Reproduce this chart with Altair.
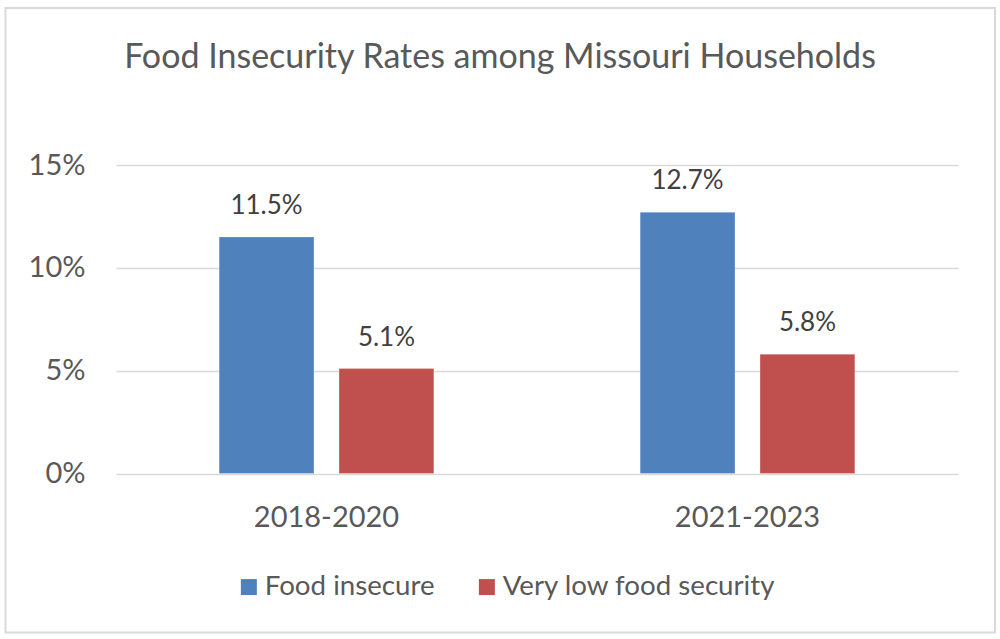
import altair as alt
import pandas as pd

# Survey periods, series names and rates (percent of households)
periods = ["2018-2020", "2021-2023"]
series = ["Food insecure", "Very low food security"]
food_insecure = [11.5, 12.7]
very_low = [5.1, 5.8]
y_ticks = [0, 5, 10, 15]
title_text = "Food Insecurity Rates among Missouri Households"

colors = ["#4F81BD", "#C0504D"]
FONT = "Lato"

rows = []
for i, p in enumerate(periods):
    rows.append({"period": p, "series": series[0], "rate": food_insecure[i]})
    rows.append({"period": p, "series": series[1], "rate": very_low[i]})
df = pd.DataFrame(rows)

W, H = 842, 308.5

x_enc = alt.X(
    "period:N",
    sort=periods,
    scale=alt.Scale(paddingInner=0.49, paddingOuter=0.245),
    axis=alt.Axis(
        title=None, ticks=False, domain=False, labelAngle=0,
        labelFontSize=29, labelColor="#595959", labelFont=FONT,
        labelBaseline="alphabetic", labelPadding=53,
    ),
)
xo_enc = alt.XOffset(
    "series:N", sort=series,
    scale=alt.Scale(paddingInner=0.209, paddingOuter=0),
)
y_enc = alt.Y(
    "rate:Q",
    scale=alt.Scale(domain=[0, 15], nice=False),
    axis=alt.Axis(
        title=None, values=y_ticks, ticks=False, domain=False,
        labelExpr="datum.value + '%'",
        labelFontSize=29, labelColor="#595959", labelFont=FONT,
        labelPadding=31, gridColor="#D9D9D9", gridWidth=1.5,
    ),
)

bars = alt.Chart(df).mark_bar(stroke="#ffffff", strokeOpacity=0.25, strokeWidth=1).encode(
    x=x_enc,
    xOffset=xo_enc,
    y=y_enc,
    color=alt.Color(
        "series:N",
        sort=series,
        scale=alt.Scale(domain=series, range=colors),
        legend=alt.Legend(
            title=None, orient="none", direction="horizontal",
            legendX=119, legendY=408,
            symbolType="square", symbolSize=256, symbolStrokeWidth=0,
            symbolOpacity=1,
            labelFontSize=27.7, labelColor="#595959", labelFont=FONT,
            labelOffset=2, columnPadding=38, labelLimit=600,
        ),
    ),
)

labels = alt.Chart(df).transform_calculate(
    label="format(datum.rate, '.1f') + '%'"
).mark_text(
    baseline="alphabetic", dy=-23, fontSize=26, color="#404040", font=FONT
).encode(
    x=alt.X("period:N", sort=periods),
    xOffset=alt.XOffset("series:N", sort=series),
    y="rate:Q",
    text="label:N",
)

one = pd.DataFrame({"t": [title_text]})

title = alt.Chart(one).mark_text(
    baseline="alphabetic", align="center", fontSize=34, color="#595959", font=FONT
).encode(x=alt.value(384), y=alt.value(-96.7), text="t:N")

frame = alt.Chart(one).mark_rect(
    fill="#ffffff", fillOpacity=0, stroke="#D9D9D9", strokeWidth=2
).encode(
    x=alt.value(-110.5), x2=alt.value(879), y=alt.value(-157), y2=alt.value(467.5)
)

chart = alt.layer(frame, bars, labels, title).properties(
    width=W, height=H,
    autosize=alt.AutoSizeParams(type="none"),
    padding={"left": 116, "top": 165, "right": 42, "bottom": 165.5},
    background="#ffffff",
).configure_view(stroke=None)

chart.save("out.html", embed_options={"renderer": "svg", "actions": False})
